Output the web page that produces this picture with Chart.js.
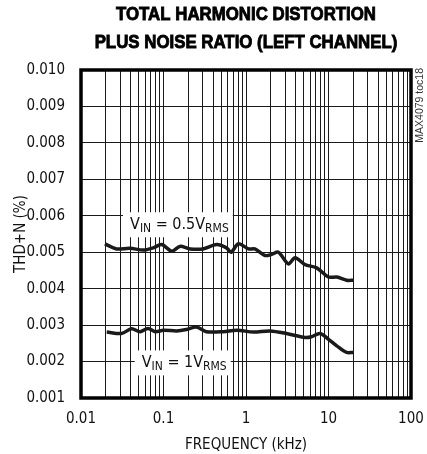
<!DOCTYPE html>
<html>
<head>
<meta charset="utf-8">
<script src="https://cdn.jsdelivr.net/npm/chart.js@4/dist/chart.umd.min.js"></script>
<style>
  html, body { margin: 0; padding: 0; background: #fff; }
  #wrap { width: 427px; height: 454px; position: relative; }
</style>
</head>
<body>
<div id="wrap"><canvas id="chart"></canvas></div>
<script>
// THD+N vs frequency, left channel
var freqHalf = [0.0195, 0.027, 0.039, 0.057, 0.075, 0.095, 0.126, 0.158, 0.21, 0.30, 0.44, 0.58, 0.66, 0.81,
                1.07, 1.28, 1.70, 2.05, 2.47, 3.26, 3.93, 5.19, 7.19, 9.96, 12.6, 16.6, 20];
var thdHalf  = [0.00523, 0.00509, 0.00511, 0.00506, 0.00512, 0.00521, 0.00503, 0.00516, 0.00509, 0.00509,
                0.00521, 0.00512, 0.00500, 0.00523, 0.00509, 0.00509, 0.00491, 0.00494, 0.00500, 0.00468,
                0.00485, 0.00466, 0.00457, 0.00432, 0.00432, 0.00423, 0.00423];

var freqOne = [0.0205, 0.031, 0.041, 0.052, 0.065, 0.079, 0.10, 0.145, 0.19, 0.25, 0.33, 0.53, 0.77, 1.23,
               1.95, 3.1, 5.2, 6.2, 7.9, 10, 12.6, 16.6, 20];
var thdOne  = [0.00281, 0.00277, 0.00290, 0.00282, 0.00291, 0.00282, 0.00286, 0.00284, 0.00288, 0.00295,
               0.00282, 0.00282, 0.00286, 0.00281, 0.00284, 0.00277, 0.00266, 0.00268, 0.00277, 0.00261,
               0.00243, 0.00225, 0.00225];

var xTickValues = [0.01, 0.1, 1, 10, 100];
var xTickLabels = ['0.01', '0.1', '1', '10', '100'];
var xMinorSteps = [1, 2, 3, 4, 5, 6, 7, 8, 9];

var titleLines = ['TOTAL HARMONIC DISTORTION', 'PLUS NOISE RATIO (LEFT CHANNEL)'];

var FONT = "'Liberation Sans Narrow', 'Arial Narrow', 'DejaVu Sans Condensed', sans-serif";

function toPoints(xs, ys) {
    var pts = [];
    for (var i = 0; i < xs.length; i++) {
        pts.push({ x: xs[i], y: ys[i] });
    }
    return pts;
}

// grid positions: every 1..9 step of each decade
var xGrid = [];
for (var d = 0; d < xTickValues.length - 1; d++) {
    for (var k = 0; k < xMinorSteps.length; k++) {
        xGrid.push(+(xMinorSteps[k] * xTickValues[d]).toPrecision(3));
    }
}
xGrid.push(xTickValues[xTickValues.length - 1]);

// title, curve labels and frame
var decor = {
    id: 'decor',
    beforeDatasetsDraw: function (chart) {
        var ctx = chart.ctx,
            xs = chart.scales.x,
            ys = chart.scales.y;
        var labels = [
            { f: 0.0393, v: 0.00563, mid: ' = 0.5V' },
            { f: 0.0545, v: 0.00184, mid: ' = 1V' }
        ];
        ctx.save();
        labels.forEach(function (l) {
            var x = xs.getPixelForValue(l.f),
                y = ys.getPixelForValue(l.v);
            var big = '16px ' + FONT, small = '12px ' + FONT;
            ctx.font = big;
            var wV = ctx.measureText('V').width,
                wMid = ctx.measureText(l.mid).width;
            ctx.font = small;
            var wIN = ctx.measureText('IN').width,
                wRMS = ctx.measureText('RMS').width;
            var total = wV + wIN + wMid + wRMS;
            ctx.fillStyle = '#fff';
            ctx.fillRect(x - 7, y - 17, total + 11, 25);
            ctx.fillStyle = '#111';
            ctx.textBaseline = 'alphabetic';
            ctx.textAlign = 'left';
            var cx = x;
            ctx.font = big;  ctx.fillText('V', cx, y);        cx += wV;
            ctx.font = small; ctx.fillText('IN', cx, y + 3);  cx += wIN;
            ctx.font = big;  ctx.fillText(l.mid, cx, y);      cx += wMid;
            ctx.font = small; ctx.fillText('RMS', cx, y + 3);
        });
        ctx.restore();
    },
    afterDraw: function (chart) {
        var ctx = chart.ctx,
            a = chart.chartArea;
        ctx.save();
        ctx.strokeStyle = '#000';
        ctx.lineWidth = 3.5;
        ctx.strokeRect(a.left, a.top, a.right - a.left, a.bottom - a.top);

        // condensed heavy title: squeeze the text horizontally
        ctx.fillStyle = '#000';
        ctx.strokeStyle = '#000';
        ctx.lineWidth = 0.9;
        ctx.textAlign = 'center';
        ctx.textBaseline = 'middle';
        ctx.font = "bold 19px 'Liberation Sans', Arial, sans-serif";
        var cx = (a.left + a.right) / 2;
        var sx = 260 / ctx.measureText(titleLines[0]).width;
        ctx.save();
        ctx.translate(cx, 0);
        ctx.scale(sx, 1);
        ctx.fillText(titleLines[0], 0, 15);
        ctx.strokeText(titleLines[0], 0, 15);
        ctx.fillText(titleLines[1], 0, 43);
        ctx.strokeText(titleLines[1], 0, 43);
        ctx.restore();

        ctx.translate(423, 68);
        ctx.rotate(-Math.PI / 2);
        ctx.textAlign = 'right';
        ctx.textBaseline = 'alphabetic';
        ctx.font = "10.5px 'Liberation Sans', sans-serif";
        ctx.fillStyle = '#333';
        ctx.fillText('MAX4079 toc18', 0, 0);
        ctx.restore();
    }
};

new Chart(document.getElementById('chart'), {
    type: 'line',
    data: {
        datasets: [{
            label: 'VIN = 0.5VRMS',
            data: toPoints(freqHalf, thdHalf),
            borderColor: '#1a1a1a',
            borderWidth: 3.5,
            pointRadius: 0,
            tension: 0.3,
            fill: false
        }, {
            label: 'VIN = 1VRMS',
            data: toPoints(freqOne, thdOne),
            borderColor: '#1a1a1a',
            borderWidth: 3.5,
            pointRadius: 0,
            tension: 0.3,
            fill: false
        }]
    },
    options: {
        responsive: true,
        maintainAspectRatio: false,
        animation: false,
        layout: { padding: { top: 70, right: 16, left: 0, bottom: 0 } },
        plugins: {
            legend: { display: false },
            title: { display: false },
            tooltip: { enabled: false }
        },
        scales: {
            x: {
                type: 'logarithmic',
                min: 0.01,
                max: 100,
                afterBuildTicks: function (scale) {
                    scale.ticks = xGrid.map(function (v) { return { value: v }; });
                },
                afterFit: function (scale) {
                    scale.height = 56;
                    scale.paddingLeft = 0;
                    scale.paddingRight = 0;
                },
                ticks: {
                    autoSkip: false,
                    maxRotation: 0,
                    padding: 12,
                    color: '#111',
                    font: { family: FONT, size: 15 },
                    callback: function (value) {
                        for (var i = 0; i < xTickValues.length; i++) {
                            if (Math.abs(value - xTickValues[i]) < xTickValues[i] * 1e-6) return xTickLabels[i];
                        }
                        return '';
                    }
                },
                grid: { color: '#1a1a1a', lineWidth: 1, drawTicks: false },
                border: { display: false },
                title: {
                    display: true,
                    text: 'FREQUENCY (kHz)',
                    color: '#111',
                    font: { family: FONT, size: 15 },
                    padding: { top: 0, bottom: 0 }
                }
            },
            y: {
                type: 'linear',
                min: 0.001,
                max: 0.010,
                afterFit: function (scale) { scale.width = 81; },
                ticks: {
                    stepSize: 0.001,
                    padding: 16,
                    color: '#111',
                    font: { family: FONT, size: 15 },
                    callback: function (value) { return value.toFixed(3); }
                },
                grid: { color: '#1a1a1a', lineWidth: 1, drawTicks: false },
                border: { display: false },
                title: {
                    display: true,
                    text: 'THD+N (%)',
                    color: '#111',
                    font: { family: FONT, size: 15 },
                    padding: { top: 12, bottom: 0 }
                }
            }
        }
    },
    plugins: [decor]
});
</script>
</body>
</html>
